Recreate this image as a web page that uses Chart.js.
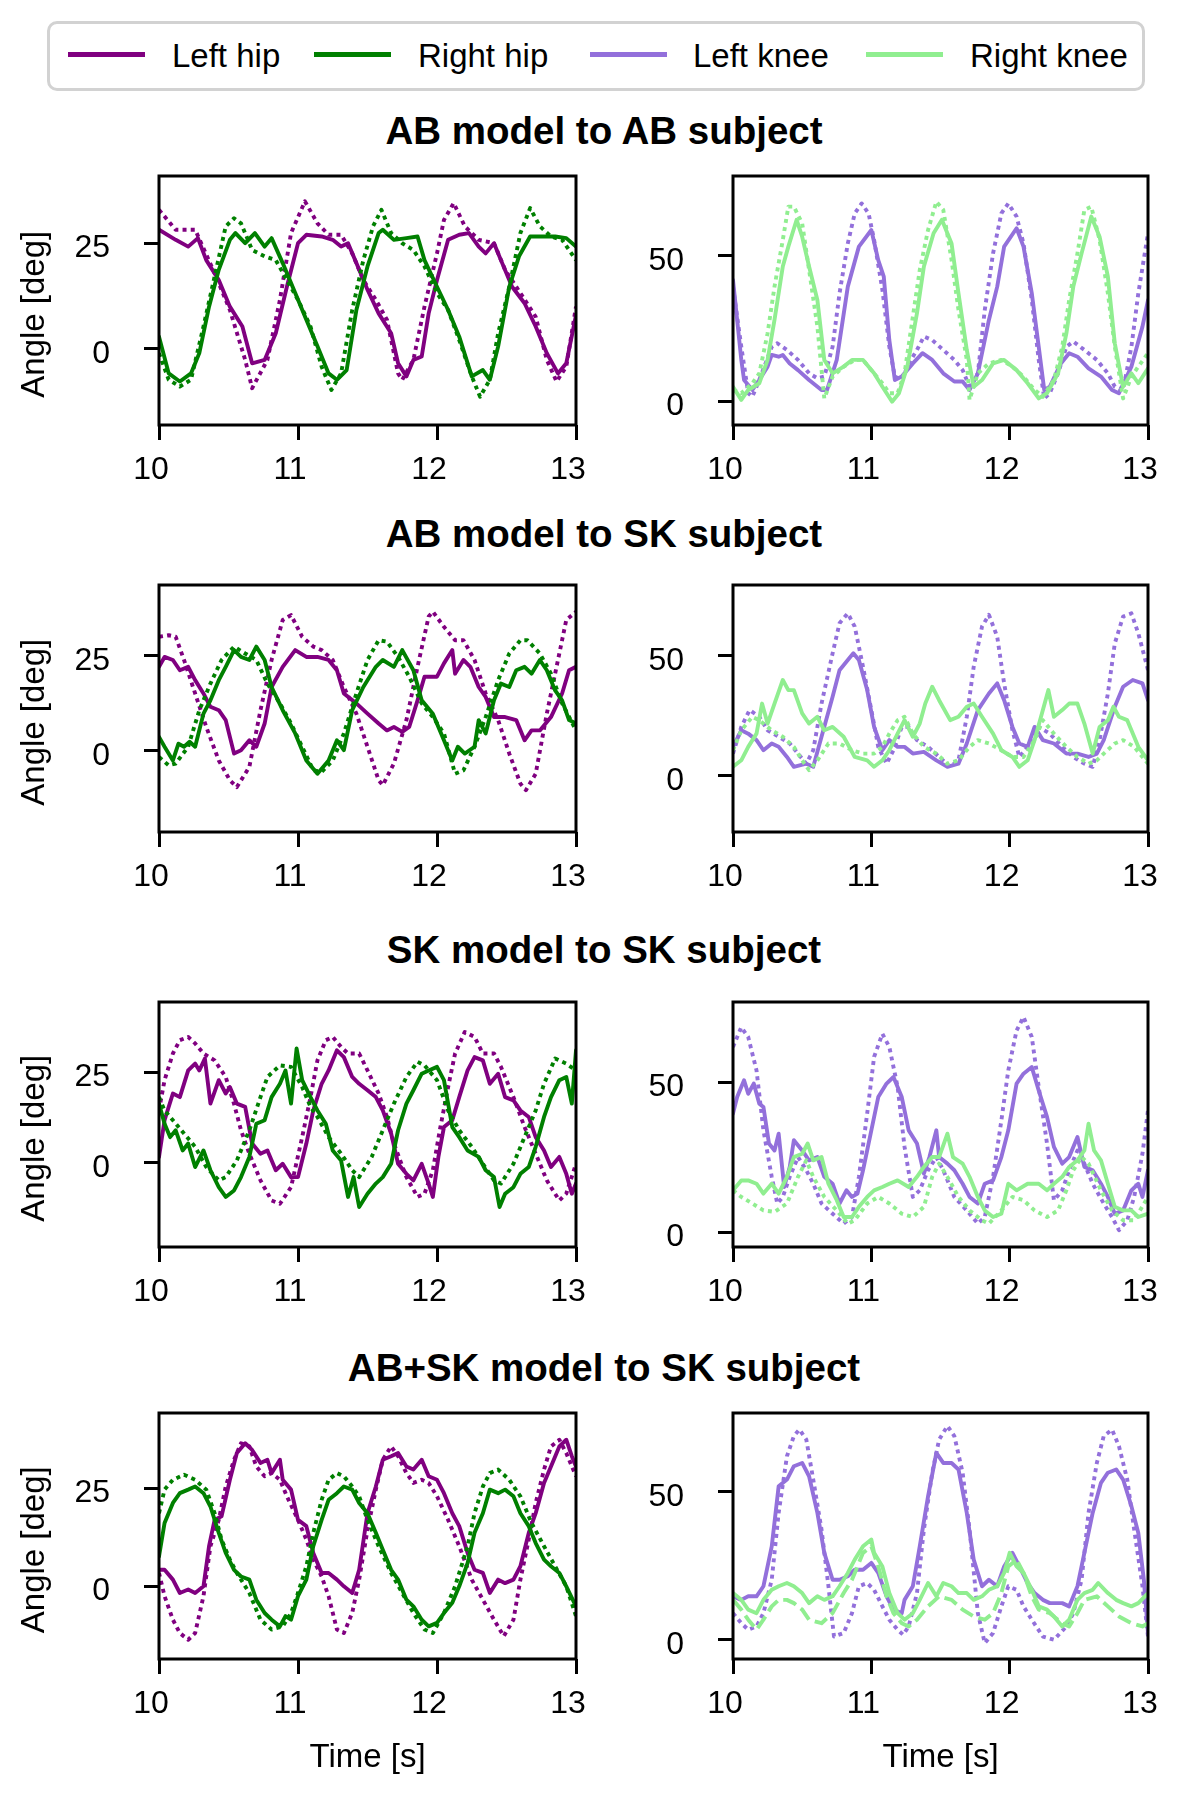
<!DOCTYPE html>
<html>
<head>
<meta charset="utf-8">
<script src="https://cdn.jsdelivr.net/npm/chart.js@4.4.1/dist/chart.umd.min.js"></script>
<style>
  html, body { margin: 0; padding: 0; background: #fff; }
  body { width: 1181px; height: 1817px; position: relative; overflow: hidden;
         font-family: "Liberation Sans", Arial, sans-serif; color: #000; }
  .legend { position: absolute; left: 47px; top: 21px; width: 1098px; height: 70px;
            box-sizing: border-box; border: 3px solid #d2d2d2; border-radius: 10px; background: #fff; }
  .sw { position: absolute; height: 5px; top: 52px; width: 77px; }
  .lt { position: absolute; font-size: 33px; line-height: 33px; top: 39px; white-space: nowrap; }
  .title { position: absolute; left: 0; width: 1208px; text-align: center; font-weight: bold;
           font-size: 38.5px; line-height: 38px; white-space: nowrap; }
  canvas { position: absolute; }
</style>
</head>
<body>
<div class="legend"></div>
<div class="sw" style="left:68px;background:#800080"></div>
<div class="lt" style="left:172px">Left hip</div>
<div class="sw" style="left:314px;background:#008000"></div>
<div class="lt" style="left:418px">Right hip</div>
<div class="sw" style="left:590px;background:#9370DB"></div>
<div class="lt" style="left:693px">Left knee</div>
<div class="sw" style="left:866px;background:#90EE90"></div>
<div class="lt" style="left:970px">Right knee</div>

<div class="title" style="top:112px">AB model to AB subject</div>
<div class="title" style="top:515px">AB model to SK subject</div>
<div class="title" style="top:931px">SK model to SK subject</div>
<div class="title" style="top:1349px">AB+SK model to SK subject</div>

<script>
// ---------------- DATA (time [s], angle [deg]) ----------------
// Row 1: AB model to AB subject
const r1_lhip = [[10,28.2],[10.12,25.8],[10.21,24.2],[10.28,26.2],[10.34,21],[10.43,16.3],[10.51,10],[10.6,5.3],[10.67,-3.4],[10.76,-2.6],[10.84,3.7],[10.92,14.7],[11,25],[11.06,27],[11.17,26.6],[11.25,25.8],[11.31,24.2],[11.36,25],[11.42,20.3],[11.5,14],[11.58,8.4],[11.67,3.7],[11.72,-3.4],[11.78,-6.5],[11.83,-2.6],[11.89,-1.8],[11.94,8.4],[12,16.3],[12.08,25.8],[12.16,27],[12.23,27.4],[12.3,24.2],[12.35,22.6],[12.41,25],[12.46,21],[12.54,14.7],[12.63,10.8],[12.71,5.3],[12.79,-1],[12.87,-5.8],[12.93,-3.4],[13,8]];
const r1_lhip_ref = [[10,32.9],[10.12,28.2],[10.26,28.2],[10.4,17.9],[10.51,9.2],[10.62,-2.6],[10.67,-9.3],[10.78,-2.6],[10.87,11.6],[10.95,27.4],[11.05,34.9],[11.14,29.7],[11.22,27],[11.31,27],[11.39,22.6],[11.47,16.3],[11.56,11.6],[11.64,6.9],[11.72,-5.8],[11.75,-7.3],[11.83,-2.6],[11.91,10],[12,22.6],[12.05,30.5],[12.12,34.5],[12.2,29],[12.3,25.8],[12.41,25],[12.49,18.7],[12.6,13.2],[12.71,7.6],[12.79,-2.6],[12.86,-7.7],[12.93,-4.2],[13,10]];
const r1_rhip = [[10,2.9],[10.07,-5.8],[10.15,-7.7],[10.23,-5.8],[10.29,-1],[10.36,10],[10.43,18.7],[10.51,25.8],[10.55,27.4],[10.62,25],[10.69,27.4],[10.76,24.2],[10.81,26.2],[10.89,20.3],[10.98,13.2],[11.06,6.9],[11.14,0.6],[11.22,-5.8],[11.28,-7.3],[11.35,-5],[11.42,9.2],[11.5,19.5],[11.58,27.4],[11.61,28.2],[11.69,25.8],[11.78,26.2],[11.86,26.6],[11.91,21],[12,14.7],[12.08,9.2],[12.16,2.9],[12.25,-6.5],[12.33,-5],[12.38,-7.3],[12.44,0.6],[12.52,14.7],[12.59,21.9],[12.67,26.6],[12.76,26.6],[12.85,26.6],[12.93,26.2],[13,24.2]];
const r1_rhip_ref = [[10,-1],[10.07,-7.3],[10.15,-8.9],[10.23,-7.3],[10.32,5.3],[10.4,17.1],[10.48,29],[10.54,30.9],[10.59,29.7],[10.67,23.4],[10.76,21.9],[10.84,21],[10.92,16.3],[11,11.6],[11.09,5.3],[11.17,-4.2],[11.24,-9.7],[11.31,-5.8],[11.39,9.2],[11.47,21],[11.54,29],[11.6,32.9],[11.67,27.4],[11.75,25],[11.83,23.4],[11.91,19.5],[12,13.2],[12.08,9.2],[12.16,2.1],[12.25,-6.5],[12.31,-11.3],[12.38,-7.3],[12.44,3.7],[12.52,14.7],[12.6,27.4],[12.67,33.3],[12.74,29],[12.82,26.6],[12.9,25.8],[13,21]];
const r1_lknee = [[10,41.7],[10.06,14.3],[10.08,7.4],[10.14,4],[10.19,7.4],[10.25,12],[10.28,16],[10.33,15.4],[10.36,16],[10.41,13.1],[10.47,10.8],[10.55,7.4],[10.64,4],[10.68,4],[10.75,14.3],[10.83,39.4],[10.91,53.1],[11,58.8],[11.05,48.5],[11.09,42.8],[11.13,21.1],[11.17,7.4],[11.22,8.6],[11.3,13.1],[11.37,16.6],[11.44,14.3],[11.52,9.7],[11.6,6.9],[11.66,6.9],[11.71,4],[11.77,9.7],[11.85,28],[11.91,39.4],[11.96,53.1],[12.05,59.4],[12.1,53.1],[12.16,37.1],[12.21,18.8],[12.25,4],[12.29,5.1],[12.37,13.1],[12.43,16.6],[12.49,15.4],[12.57,11.4],[12.66,8.6],[12.74,4],[12.79,2.9],[12.88,12],[12.96,25.7],[13,34.8]];
const r1_lknee_ref = [[10,39.4],[10.06,18.8],[10.11,2.9],[10.14,1.7],[10.19,7.4],[10.28,18.8],[10.32,20],[10.39,17.7],[10.47,14.3],[10.55,9.7],[10.61,8],[10.66,8.6],[10.72,18.8],[10.77,37.1],[10.83,54.2],[10.88,64.5],[10.93,67.9],[10.98,64.5],[11.02,55.4],[11.08,38.3],[11.13,18.8],[11.17,8.6],[11.22,7.4],[11.27,13.1],[11.33,17.7],[11.38,22.3],[11.44,21.1],[11.52,17.7],[11.6,14.3],[11.66,10.8],[11.71,5.1],[11.77,9.7],[11.82,31.4],[11.88,50.8],[11.94,64.5],[11.99,67.9],[12.05,63.4],[12.1,54.2],[12.16,34.8],[12.21,14.3],[12.25,1.1],[12.29,2.9],[12.35,9.7],[12.41,18.8],[12.46,20.6],[12.54,17.7],[12.63,14.3],[12.71,9.7],[12.76,5.1],[12.82,4],[12.88,18.8],[12.93,37.1],[13,57.7]];
const r1_rknee = [[10,5.1],[10.06,0.6],[10.11,4],[10.19,6.3],[10.25,14.3],[10.3,28],[10.36,46.3],[10.4,53.1],[10.46,62.3],[10.5,56.5],[10.55,46.3],[10.61,34.8],[10.66,14.3],[10.72,9.7],[10.8,12],[10.86,14.3],[10.94,14.3],[11.02,9.7],[11.08,5.1],[11.15,0],[11.2,2.9],[11.26,12],[11.33,30.3],[11.38,46.3],[11.45,57.7],[11.51,62.3],[11.58,54.2],[11.63,37.1],[11.69,17.7],[11.74,5.1],[11.8,7.4],[11.88,13.1],[11.96,14.3],[12.05,10.8],[12.13,6.3],[12.21,1.1],[12.27,2.9],[12.35,9.7],[12.41,23.4],[12.46,39.4],[12.52,50.8],[12.59,63.4],[12.65,56.5],[12.71,42.8],[12.76,20],[12.82,5.1],[12.88,9.7],[12.93,6.3],[13,11.4]];
const r1_rknee_ref = [[10,4],[10.06,2.9],[10.14,6.3],[10.19,9.7],[10.25,23.4],[10.3,39.4],[10.36,55.4],[10.4,66.8],[10.44,66.8],[10.5,61.1],[10.55,45.1],[10.61,25.7],[10.66,1.1],[10.72,8.6],[10.8,12],[10.88,14.3],[10.94,14.3],[11,10.8],[11.08,6.3],[11.13,2.9],[11.19,2.9],[11.24,9.7],[11.3,29.1],[11.35,45.1],[11.41,58.8],[11.47,68.5],[11.52,65.7],[11.58,48.5],[11.63,31.4],[11.69,14.3],[11.71,0.6],[11.77,9.7],[11.85,13.1],[11.94,14.3],[12.02,12],[12.1,8.6],[12.18,4],[12.24,1.7],[12.32,7.4],[12.38,18.8],[12.43,34.8],[12.49,50.8],[12.54,65.7],[12.59,66.8],[12.65,55.4],[12.71,37.1],[12.76,18.8],[12.82,1.1],[12.88,8.6],[12.93,12],[13,16.6]];

// Row 2: AB model to SK subject
const r2_lhip = [[10,22.1],[10.04,24.7],[10.1,23.9],[10.15,21.2],[10.21,22.1],[10.26,18.6],[10.32,15.1],[10.37,11.6],[10.43,10.7],[10.48,8.1],[10.54,-0.7],[10.59,0.2],[10.65,2.8],[10.7,1.1],[10.76,7.2],[10.81,16.8],[10.89,22.1],[10.98,26.5],[11.06,24.7],[11.14,24.7],[11.22,23.9],[11.28,21.2],[11.33,15.1],[11.42,12.5],[11.5,9.8],[11.58,7.2],[11.64,5.4],[11.69,6.3],[11.75,5],[11.8,6.3],[11.86,13.3],[11.91,19.5],[12,19.5],[12.05,23],[12.11,26.5],[12.13,20.3],[12.19,23.9],[12.24,22.1],[12.3,16.8],[12.35,14.2],[12.41,8.9],[12.49,8.9],[12.57,8.1],[12.63,2.8],[12.68,5.4],[12.74,5.4],[12.82,8.9],[12.9,15.1],[12.95,21.2],[13,22.1]];
const r2_lhip_ref = [[10,30],[10.07,30.4],[10.12,30],[10.18,23.9],[10.26,15.1],[10.34,6.3],[10.43,-2.5],[10.51,-7.7],[10.56,-9.5],[10.65,-4.2],[10.73,10.7],[10.81,23.9],[10.89,34.4],[10.95,35.7],[11.03,30],[11.11,27.4],[11.17,26.5],[11.25,23.9],[11.33,16.8],[11.42,9.8],[11.5,1.1],[11.58,-7.7],[11.61,-9],[11.69,-3.3],[11.78,8.1],[11.86,22.1],[11.94,35.3],[11.97,36.6],[12.05,32.6],[12.13,29.1],[12.19,29.1],[12.27,23.9],[12.35,15.1],[12.44,8.1],[12.52,-0.7],[12.6,-8.6],[12.64,-10.3],[12.71,-6],[12.79,9.8],[12.88,25.6],[12.93,34.4],[13,36.6]];
const r2_rhip = [[10,3.7],[10.04,1.1],[10.1,-2.5],[10.14,1.9],[10.18,1.1],[10.22,2.4],[10.26,1.1],[10.32,9.8],[10.37,13.3],[10.43,18.6],[10.48,22.1],[10.54,26.5],[10.59,24.7],[10.65,23.9],[10.7,27.4],[10.76,23.9],[10.81,16.8],[10.89,10.7],[10.98,4.6],[11.06,-2.5],[11.14,-6],[11.22,-2.5],[11.28,2.8],[11.33,0.2],[11.39,10.7],[11.47,16.8],[11.56,22.1],[11.61,23.9],[11.69,22.1],[11.75,26.5],[11.83,21.2],[11.89,13.3],[11.97,9.8],[12.05,2.8],[12.11,-2.5],[12.15,1.1],[12.2,-0.7],[12.27,1.1],[12.3,8.1],[12.35,4.6],[12.41,13.3],[12.46,17.7],[12.52,16.8],[12.57,21.2],[12.63,22.1],[12.68,20.3],[12.74,23.9],[12.79,21.2],[12.85,15.9],[12.9,13.3],[12.95,8.1],[13,7.2]];
const r2_rhip_ref = [[10,-1.6],[10.07,-3.8],[10.12,-3.3],[10.21,1.1],[10.29,10.7],[10.37,17.7],[10.45,23.9],[10.54,27.4],[10.62,25.6],[10.7,23.9],[10.78,17.7],[10.87,12.5],[10.95,7.2],[11.03,1.1],[11.11,-5.1],[11.17,-5.5],[11.25,-2.5],[11.33,4.6],[11.42,15.1],[11.5,23.9],[11.58,29.1],[11.64,28.7],[11.72,24.7],[11.8,19.5],[11.89,12.5],[11.97,8.9],[12.05,4.6],[12.13,-6],[12.19,-5.1],[12.27,1.1],[12.35,8.9],[12.44,18.6],[12.52,25.6],[12.6,29.1],[12.65,29.1],[12.74,25.6],[12.82,20.3],[12.9,12.5],[13,5.4]];
const r2_lknee = [[10,12.1],[10.06,19],[10.11,17.6],[10.17,14.9],[10.22,10.7],[10.28,13.5],[10.33,12.1],[10.39,7.9],[10.44,3.8],[10.53,5.1],[10.58,3.8],[10.64,16.3],[10.72,32.9],[10.77,44],[10.83,48.2],[10.87,51],[10.91,48.2],[10.97,35.7],[11.02,20.4],[11.08,10.7],[11.13,14.9],[11.19,12.1],[11.24,12.1],[11.3,9.3],[11.38,10],[11.47,6.5],[11.55,3.8],[11.63,5.1],[11.69,13.5],[11.77,27.4],[11.85,34.3],[11.91,38.5],[11.96,31.5],[12.02,20.4],[12.07,13.5],[12.13,12.1],[12.18,20.4],[12.24,14.9],[12.32,13.5],[12.41,9.3],[12.49,9.3],[12.57,7.9],[12.63,9.3],[12.68,14.9],[12.76,28.8],[12.82,37.1],[12.89,39.9],[12.96,38.5],[13,31.5]];
const r2_lknee_ref = [[10,9.3],[10.06,20.4],[10.12,27.4],[10.19,24.6],[10.25,19],[10.33,16.3],[10.41,13.5],[10.47,9.3],[10.53,5.1],[10.58,10.7],[10.64,30.1],[10.72,51],[10.77,63.5],[10.83,67.6],[10.88,62.1],[10.94,45.4],[11,27.4],[11.05,12.1],[11.11,5.1],[11.16,10.7],[11.22,20.4],[11.27,20.4],[11.33,14.9],[11.41,12.1],[11.49,7.9],[11.57,3.8],[11.63,6.5],[11.69,24.6],[11.74,45.4],[11.8,62.1],[11.85,67],[11.91,57.9],[11.96,38.5],[12.02,19],[12.07,7.9],[12.13,12.1],[12.21,20.4],[12.29,17.6],[12.38,12.1],[12.46,7.9],[12.54,5.1],[12.6,3.8],[12.65,14.9],[12.71,34.3],[12.76,55.1],[12.82,66.3],[12.88,67.6],[12.93,59.3],[13,44]];
const r2_rknee = [[10,3.8],[10.06,6.5],[10.11,12.1],[10.17,17.6],[10.21,30.1],[10.25,21.8],[10.3,30.1],[10.36,39.9],[10.4,35.7],[10.44,35.7],[10.5,26],[10.55,21.8],[10.61,24.6],[10.66,19],[10.72,20.4],[10.8,16.3],[10.88,7.9],[10.97,6.5],[11.02,3.8],[11.08,6.5],[11.13,10.7],[11.19,17.6],[11.24,23.2],[11.3,16.3],[11.35,21.8],[11.39,30.1],[11.44,37.1],[11.49,31.5],[11.57,23.2],[11.63,24.6],[11.69,28.8],[11.74,30.1],[11.8,24.6],[11.88,17.6],[11.94,10.7],[12.02,7.9],[12.07,3.8],[12.13,6.5],[12.18,14.9],[12.24,27.4],[12.28,35.7],[12.32,24.6],[12.38,27.4],[12.43,30.1],[12.49,30.1],[12.54,21.8],[12.6,9.3],[12.65,20.4],[12.71,23.2],[12.75,28.8],[12.79,24.6],[12.85,23.2],[12.93,12.1],[13,6.5]];
const r2_rknee_ref = [[10,10.7],[10.06,19],[10.14,24.6],[10.19,23.2],[10.28,19],[10.36,16.3],[10.44,12.1],[10.5,6.5],[10.55,2.4],[10.61,6.5],[10.69,13.5],[10.77,13.5],[10.86,10.7],[10.94,9.3],[11.02,9.3],[11.08,12.1],[11.13,17.6],[11.19,23.2],[11.24,24.6],[11.3,17.6],[11.38,12.1],[11.47,9.3],[11.55,5.1],[11.63,6.5],[11.71,12.1],[11.77,14.9],[11.85,13.5],[11.94,10.7],[12.02,7.9],[12.1,7.9],[12.18,14.9],[12.24,23.2],[12.32,17.6],[12.41,12.1],[12.49,7.9],[12.57,5.1],[12.63,6.5],[12.68,9.3],[12.76,13.5],[12.82,14.9],[12.9,12.1],[13,5.1]];

// Row 3: SK model to SK subject
const r3_lhip = [[10,1.6],[10.04,11.8],[10.1,19.2],[10.15,18.2],[10.21,25.6],[10.26,27.5],[10.29,25.6],[10.33,28.9],[10.37,16.4],[10.43,22.9],[10.48,19.2],[10.51,21],[10.56,16.4],[10.62,15.5],[10.67,5.3],[10.73,2.5],[10.78,3.4],[10.84,-2.1],[10.89,-0.3],[10.95,-4],[11,-4],[11.06,5.3],[11.11,14.5],[11.17,21.9],[11.22,25.6],[11.28,31.2],[11.33,29.3],[11.39,23.8],[11.44,21.9],[11.5,20.1],[11.56,18.2],[11.61,14.5],[11.67,8.1],[11.72,-0.3],[11.78,-3.1],[11.83,-4.9],[11.89,-0.3],[11.94,-5.8],[11.97,-9.5],[12.01,1.6],[12.05,9.9],[12.11,11.8],[12.16,18.2],[12.22,25.6],[12.27,29.3],[12.33,28.4],[12.38,21.9],[12.44,24.7],[12.49,18.2],[12.55,17.3],[12.6,14.5],[12.66,12.7],[12.71,7.1],[12.77,3.4],[12.82,-1.2],[12.88,1.6],[12.93,-3.1],[12.97,-8.6],[13,-5.8]];
const r3_lhip_ref = [[10,14.5],[10.04,22.9],[10.1,30.3],[10.15,34],[10.21,34.9],[10.26,33.1],[10.32,30.3],[10.4,28.4],[10.48,23.8],[10.54,16.3],[10.59,9],[10.65,2.5],[10.73,-4.9],[10.81,-10.5],[10.87,-11.4],[10.95,-6.8],[11.03,7.1],[11.09,18.2],[11.14,28.4],[11.2,34],[11.25,34.9],[11.31,32.1],[11.36,30.3],[11.44,30.3],[11.5,25.6],[11.58,19.2],[11.64,12.7],[11.69,5.3],[11.78,-4],[11.86,-9.5],[11.91,-8.6],[11.97,-2.1],[12.02,9],[12.08,21],[12.13,30.3],[12.2,36.3],[12.27,34.9],[12.33,30.3],[12.41,30.3],[12.46,26.6],[12.55,18.2],[12.63,9.9],[12.71,2.5],[12.79,-4.9],[12.88,-10.5],[12.93,-8.6],[13,-0.3]];
const r3_rhip = [[10,16.4],[10.04,10.8],[10.08,7.1],[10.12,9],[10.17,3.4],[10.21,5.3],[10.26,-1.2],[10.32,3.4],[10.37,-2.1],[10.43,-6.8],[10.48,-9.5],[10.54,-7.7],[10.59,-4],[10.65,1.6],[10.7,10.8],[10.76,11.8],[10.81,18.2],[10.87,21.9],[10.91,25.6],[10.95,16.4],[10.99,31.7],[11.03,22.9],[11.09,18.2],[11.14,14.5],[11.2,10.8],[11.25,3.4],[11.31,0.6],[11.36,-9.5],[11.4,-4],[11.44,-12.3],[11.5,-8.6],[11.56,-5.8],[11.61,-4],[11.67,-0.3],[11.72,9],[11.78,16.4],[11.83,20.1],[11.89,24.7],[11.94,25.6],[12,26.6],[12.05,22.9],[12.11,9.9],[12.16,7.1],[12.22,3.4],[12.3,1.6],[12.35,-2.1],[12.41,-4],[12.45,-12.3],[12.49,-8.6],[12.55,-6.8],[12.6,-3.1],[12.66,-1.2],[12.71,4.4],[12.77,12.7],[12.82,18.2],[12.88,22.9],[12.93,23.8],[12.97,16.4],[13,31.2]];
const r3_rhip_ref = [[10,18.2],[10.04,14.5],[10.1,11.8],[10.18,8.1],[10.26,4.4],[10.34,-1.2],[10.43,-4.9],[10.48,-4],[10.56,0.6],[10.65,9],[10.73,18.2],[10.78,23.8],[10.87,27],[10.95,26.6],[11.03,21],[11.09,15.5],[11.14,12.7],[11.22,7.1],[11.31,2.5],[11.39,-2.1],[11.44,-4],[11.53,1.6],[11.61,9],[11.69,16.4],[11.78,23.8],[11.86,28],[11.91,27],[12,22.9],[12.08,14.5],[12.16,9],[12.25,4.4],[12.33,-0.3],[12.41,-4.9],[12.46,-5.8],[12.55,-0.3],[12.63,7.1],[12.71,14.5],[12.77,21.9],[12.85,28.9],[12.93,27.5],[13,25.6]];
const r3_lknee = [[10,39.7],[10.03,45.2],[10.08,50.8],[10.11,46.3],[10.15,49.7],[10.19,43],[10.22,41.9],[10.26,29.7],[10.3,27.4],[10.33,33],[10.37,15.2],[10.41,21.9],[10.44,30.8],[10.5,27.4],[10.55,24.1],[10.61,25.2],[10.66,18.6],[10.72,16.3],[10.77,9.7],[10.82,14.1],[10.86,11.9],[10.9,13],[10.94,20.8],[11,34.1],[11.05,45.2],[11.11,49.7],[11.16,51.9],[11.22,45.2],[11.27,34.1],[11.33,29.7],[11.38,19.7],[11.42,25.2],[11.47,34.1],[11.49,25.2],[11.55,23],[11.6,20.8],[11.66,16.3],[11.71,11.9],[11.77,9.7],[11.82,16.3],[11.88,17.4],[11.94,25.2],[11.99,34.1],[12.05,49.7],[12.1,53],[12.16,55.2],[12.21,47.4],[12.27,38.6],[12.32,28.6],[12.38,23],[12.43,25.2],[12.49,31.9],[12.54,21.9],[12.6,20.8],[12.66,16.3],[12.71,11.9],[12.76,6.3],[12.82,7.4],[12.88,14.1],[12.93,16.3],[12.96,11.9],[13,20.8]];
const r3_lknee_ref = [[10,61.9],[10.06,68.5],[10.11,65.2],[10.17,54.1],[10.22,34.1],[10.28,18.6],[10.32,9.7],[10.36,11.9],[10.41,18.6],[10.47,25.2],[10.53,20.8],[10.58,16.3],[10.64,9.7],[10.72,6.3],[10.8,3],[10.86,5.2],[10.91,18.6],[10.97,39.7],[11.02,58.6],[11.08,66.3],[11.13,61.9],[11.19,48.6],[11.24,28.6],[11.3,11.9],[11.35,14.1],[11.41,20.8],[11.47,25.2],[11.52,20.8],[11.6,11.9],[11.69,7.4],[11.77,3],[11.82,5.2],[11.88,18.6],[11.94,37.4],[11.99,54.1],[12.05,67.4],[12.1,71.9],[12.16,65.2],[12.21,48.6],[12.27,29.7],[12.32,10.8],[12.38,14.1],[12.43,20.8],[12.49,27.4],[12.54,23],[12.6,16.3],[12.68,9.7],[12.74,5.2],[12.79,0.8],[12.85,4.1],[12.9,11.9],[12.96,26.3],[13,40.8]];
const r3_rknee = [[10,14.1],[10.06,17.4],[10.11,17.4],[10.17,16.3],[10.22,13],[10.28,16.3],[10.33,13],[10.39,18.6],[10.44,25.2],[10.5,26.3],[10.54,29.7],[10.58,24.1],[10.64,25.2],[10.69,16.3],[10.75,10.8],[10.8,5.2],[10.86,5.2],[10.91,8.6],[10.97,11.9],[11.02,14.1],[11.08,15.2],[11.13,16.3],[11.19,17.4],[11.27,15.2],[11.33,18.6],[11.38,21.9],[11.44,25.2],[11.49,25.2],[11.55,33],[11.59,25.2],[11.66,23],[11.71,18.6],[11.77,11.9],[11.82,7.4],[11.88,5.2],[11.94,6.3],[11.99,16.3],[12.05,14.1],[12.13,16.3],[12.21,16.3],[12.27,14.1],[12.32,16.3],[12.38,18.6],[12.43,21.9],[12.49,24.1],[12.54,27.4],[12.57,36.3],[12.61,27.4],[12.66,24.1],[12.71,16.3],[12.76,8.6],[12.82,7.4],[12.88,7.4],[12.93,5.2],[13,6.3]];
const r3_rknee_ref = [[10,14.1],[10.06,11.9],[10.14,9.7],[10.22,7.4],[10.3,6.9],[10.39,9.7],[10.47,18.6],[10.53,24.1],[10.58,18.6],[10.66,11.9],[10.75,7.4],[10.83,3],[10.88,4.1],[10.97,9.7],[11.05,11.9],[11.13,9.7],[11.22,6.3],[11.3,5.2],[11.38,8.6],[11.44,18.6],[11.49,23],[11.55,18.6],[11.63,11.9],[11.71,7.4],[11.8,4.1],[11.85,3],[11.94,7.4],[12.02,11.9],[12.1,10.8],[12.18,7.4],[12.27,5.2],[12.35,7.4],[12.41,14.1],[12.46,20.8],[12.52,25.2],[12.57,23],[12.66,14.1],[12.74,7.4],[12.82,4.1],[12.9,4.1],[13,11.9]];

// Row 4: AB+SK model to SK subject
const r4_lhip = [[10,4.2],[10.04,4.2],[10.1,1.7],[10.15,-1.7],[10.21,-0.8],[10.26,-1.7],[10.32,0],[10.36,10.2],[10.4,16.9],[10.45,17.8],[10.51,27.1],[10.56,33.9],[10.62,36.4],[10.67,34.7],[10.73,31.4],[10.78,32.2],[10.81,28.8],[10.87,32.2],[10.89,27.1],[10.95,24.6],[11,16.9],[11.06,15.3],[11.11,8.5],[11.17,3.4],[11.22,3.4],[11.28,1.7],[11.33,0],[11.39,-1.7],[11.44,4.2],[11.5,18.6],[11.56,25.4],[11.61,32.2],[11.67,33.1],[11.72,33.9],[11.78,30.5],[11.83,29.7],[11.89,32.2],[11.94,28],[12,27.1],[12.05,23.7],[12.11,18.6],[12.16,15.3],[12.22,8.5],[12.27,4.2],[12.33,3.4],[12.38,-1.7],[12.44,1.7],[12.49,0.8],[12.55,1.7],[12.6,5.1],[12.66,13.6],[12.71,18.6],[12.77,26.3],[12.82,30.5],[12.88,35.6],[12.93,37.3],[12.97,33.1],[13,30.5]];
const r4_lhip_ref = [[10,3.4],[10.04,-2.5],[10.1,-8.5],[10.15,-11.9],[10.21,-13.6],[10.26,-11.9],[10.32,-2.5],[10.37,10.2],[10.43,16.9],[10.48,25.4],[10.54,32.2],[10.59,36.4],[10.65,35.6],[10.7,30.5],[10.76,28],[10.81,28.8],[10.87,27.1],[10.92,22.9],[11,16.9],[11.06,11.9],[11.11,6.8],[11.17,2.5],[11.22,-2.5],[11.28,-11],[11.33,-11.9],[11.39,-6.8],[11.44,1.7],[11.5,14.4],[11.56,24.6],[11.61,32.2],[11.67,35.6],[11.72,33.1],[11.78,28.8],[11.83,26.3],[11.89,27.1],[11.94,26.3],[12,22.9],[12.08,16.9],[12.16,10.2],[12.25,1.7],[12.33,-3.4],[12.41,-8.5],[12.48,-12.7],[12.55,-8.5],[12.6,1.7],[12.66,11.9],[12.71,21.2],[12.77,29.7],[12.82,35.6],[12.88,37.3],[12.93,33.9],[13,28]];
const r4_rhip = [[10,7.6],[10.04,16.1],[10.1,21.2],[10.15,23.7],[10.21,24.6],[10.26,25.4],[10.32,23.7],[10.37,20.3],[10.43,13.6],[10.48,8.5],[10.54,4.2],[10.59,2.5],[10.65,1.7],[10.7,-3.4],[10.76,-6.8],[10.81,-8.5],[10.87,-10.2],[10.91,-7.6],[10.95,-8.5],[11,-2.5],[11.06,1.7],[11.11,10.2],[11.17,16.9],[11.22,22],[11.28,23.7],[11.33,25.4],[11.39,24.6],[11.44,21.2],[11.5,18.6],[11.56,13.6],[11.61,9.3],[11.67,4.2],[11.72,1.7],[11.78,-3.4],[11.83,-5.1],[11.89,-8.5],[11.94,-10.2],[12,-9.3],[12.05,-6.8],[12.11,-4.2],[12.16,0],[12.22,5.9],[12.27,13.6],[12.33,18.6],[12.38,24.6],[12.44,23.7],[12.49,24.6],[12.55,22.9],[12.6,18.6],[12.66,15.3],[12.71,11],[12.77,6.8],[12.82,5.1],[12.88,3.4],[12.93,0],[13,-5.1]];
const r4_rhip_ref = [[10,18.6],[10.04,24.6],[10.1,27.1],[10.18,28.4],[10.26,27.1],[10.34,24.6],[10.4,18.6],[10.45,11.9],[10.51,6.8],[10.56,3.4],[10.65,-1.7],[10.73,-8.5],[10.81,-11],[10.89,-10.2],[10.95,-6.8],[11,-1.7],[11.06,5.1],[11.11,13.6],[11.17,22],[11.22,27.1],[11.28,28.8],[11.33,28],[11.39,25.4],[11.44,22.9],[11.5,16.9],[11.58,10.2],[11.67,3.4],[11.75,-1.7],[11.83,-6.8],[11.91,-11],[11.97,-11.9],[12.05,-6.8],[12.13,0],[12.22,10.2],[12.27,18.6],[12.33,25.4],[12.38,28.8],[12.44,29.7],[12.52,27.1],[12.6,22.9],[12.68,16.1],[12.77,10.2],[12.85,5.1],[12.93,0],[13,-7.6]];
const r4_lknee = [[10,14.7],[10.06,13.5],[10.11,14.7],[10.17,14.7],[10.22,18.1],[10.28,31.6],[10.33,51.9],[10.39,54.2],[10.44,58.7],[10.5,59.8],[10.55,55.3],[10.61,42.9],[10.66,29.4],[10.72,20.3],[10.77,20.3],[10.83,21.5],[10.88,23.7],[10.94,23.7],[11,26],[11.05,22.6],[11.11,14.7],[11.16,10.2],[11.22,9],[11.24,13.5],[11.3,18.1],[11.35,31.6],[11.41,48.5],[11.47,63.2],[11.52,59.8],[11.58,59.8],[11.63,57.6],[11.69,42.9],[11.74,27.1],[11.8,18.1],[11.85,20.3],[11.91,18.1],[11.96,24.8],[12.02,29.4],[12.07,24.8],[12.13,19.2],[12.18,15.8],[12.24,13.5],[12.29,12.4],[12.38,12.4],[12.43,11.3],[12.49,18.1],[12.54,29.4],[12.6,42.9],[12.66,53.1],[12.71,56.5],[12.77,57.6],[12.82,54.2],[12.88,45.2],[12.93,36.1],[12.97,20.3],[13,2.3]];
const r4_lknee_ref = [[10,9],[10.06,5.6],[10.11,3.4],[10.17,4.5],[10.22,9],[10.28,20.3],[10.33,42.9],[10.39,62.1],[10.44,68.9],[10.48,71.1],[10.53,67.7],[10.58,54.2],[10.64,37.3],[10.69,18.1],[10.73,1.1],[10.8,2.3],[10.86,9],[10.91,18.1],[10.97,19.2],[11.02,16.9],[11.08,11.3],[11.13,6.8],[11.19,3.4],[11.23,1.7],[11.27,4.5],[11.33,15.8],[11.38,37.3],[11.44,56.5],[11.49,67.7],[11.55,72.3],[11.6,68.9],[11.66,56.5],[11.71,37.3],[11.77,9],[11.82,-1.1],[11.88,2.3],[11.94,11.3],[11.99,18.1],[12.05,16.9],[12.1,11.3],[12.16,6.8],[12.24,1.1],[12.32,0],[12.41,4.5],[12.46,9],[12.52,20.3],[12.57,42.9],[12.63,59.8],[12.68,68.9],[12.74,71.1],[12.79,65.5],[12.85,54.2],[12.9,37.3],[12.96,18.1],[13,1.1]];
const r4_rknee = [[10,15.8],[10.06,13.5],[10.11,10.2],[10.17,9],[10.22,13.5],[10.28,16.9],[10.33,18.1],[10.39,19.2],[10.44,18.1],[10.5,15.8],[10.55,12.4],[10.61,14.7],[10.66,13.5],[10.72,14.7],[10.77,18.1],[10.83,22.6],[10.88,27.1],[10.94,31.6],[11,33.9],[11.02,29.4],[11.08,24.8],[11.13,15.8],[11.19,9],[11.24,6.8],[11.3,9],[11.35,13.5],[11.41,19.2],[11.47,14.7],[11.52,19.2],[11.58,18.1],[11.63,15.8],[11.69,15.8],[11.74,13.5],[11.8,14.7],[11.85,16.9],[11.91,18.1],[11.96,22.6],[12,29.4],[12.05,24.8],[12.1,22.6],[12.16,16.9],[12.21,11.3],[12.27,10.2],[12.32,7.9],[12.38,4.5],[12.43,6.8],[12.49,13.5],[12.54,15.8],[12.6,16.9],[12.64,19.2],[12.71,15.8],[12.77,13.5],[12.82,12.4],[12.88,11.3],[12.93,12.4],[13,15.8]];
const r4_rknee_ref = [[10,13.5],[10.06,10.2],[10.11,6.8],[10.17,3.4],[10.22,6.8],[10.28,11.3],[10.33,13.5],[10.39,13.5],[10.44,12.4],[10.5,10.2],[10.55,6.8],[10.64,5.6],[10.72,9],[10.8,15.8],[10.86,20.3],[10.94,29.4],[11,31.6],[11.05,24.8],[11.11,14.7],[11.16,9],[11.22,5.6],[11.27,4.5],[11.33,6.8],[11.41,11.3],[11.49,14.7],[11.58,13.5],[11.66,10.2],[11.74,7.9],[11.82,6.8],[11.88,9],[11.94,15.8],[11.99,24.8],[12.05,27.1],[12.1,22.6],[12.16,14.7],[12.21,10.2],[12.29,9],[12.38,5.6],[12.43,4.5],[12.49,9],[12.54,13.5],[12.63,14.7],[12.71,11.3],[12.79,7.9],[12.88,5.6],[12.96,4.5],[13,5.6]];

// Tick values
const xTicks = [10, 11, 12, 13];
const hipTicks = [0, 25];
const kneeTicks = [0, 50];

// ---------------- LAYOUT / STYLE ----------------
const FONT = "'Liberation Sans', Arial, sans-serif";
const COL = { lhip: '#800080', rhip: '#008000', lknee: '#9370DB', rknee: '#90EE90' };
const DOT = [4, 4.2];
const DASH = [14, 6];
const LW = 3.9;

const ROWS = [
  { top: 176,  bottom: 425,  hipRange: [-18.0, 40.9], kneeRange: [-8.0, 77.3],
    hip: [r1_rhip, r1_rhip_ref, r1_lhip, r1_lhip_ref], knee: [r1_rknee, r1_rknee_ref, r1_lknee, r1_lknee_ref] },
  { top: 585,  bottom: 832,  hipRange: [-21.3, 43.6], kneeRange: [-23.3, 79.4],
    hip: [r2_rhip, r2_rhip_ref, r2_lhip, r2_lhip_ref], knee: [r2_rknee, r2_rknee_ref, r2_lknee, r2_lknee_ref] },
  { top: 1002, bottom: 1247, hipRange: [-23.4, 44.6], kneeRange: [-4.8, 76.9],
    hip: [r3_rhip, r3_rhip_ref, r3_lhip, r3_lhip_ref], knee: [r3_rknee, r3_rknee_ref, r3_lknee, r3_lknee_ref] },
  { top: 1413, bottom: 1659, hipRange: [-18.5, 44.1], kneeRange: [-6.5, 76.7],
    hip: [r4_rhip, r4_rhip_ref, r4_lhip, r4_lhip_ref], knee: [r4_rknee, r4_rknee_ref, r4_lknee, r4_lknee_ref] },
];

const frame = {
  id: 'frame',
  afterDraw(chart) {
    const { ctx, chartArea: a } = chart;
    ctx.save();
    ctx.strokeStyle = '#000';
    ctx.lineWidth = 3;
    ctx.strokeRect(a.left, a.top, a.right - a.left, a.bottom - a.top);
    ctx.restore();
  }
};

function ds(pairs, color, dash) {
  return {
    data: pairs.map(([x, y]) => ({ x, y })),
    borderColor: color,
    backgroundColor: color,
    borderWidth: LW,
    borderDash: dash || [],
    borderCapStyle: dash ? 'butt' : 'round',
    borderJoinStyle: 'round',
    pointRadius: 0,
    tension: 0,
    fill: false
  };
}

function makePanel(opts) {
  const PT = 20, PR = 20;
  const cv = document.createElement('canvas');
  const w = opts.axRight - opts.canvasLeft + PR;
  const h = PT + (opts.axBottom - opts.axTop) + opts.xh;
  cv.width = w; cv.height = h;
  cv.style.left = opts.canvasLeft + 'px';
  cv.style.top = (opts.axTop - PT) + 'px';
  cv.style.width = w + 'px'; cv.style.height = h + 'px';
  document.body.appendChild(cv);
  const yw = opts.axLeft - opts.canvasLeft;
  const tickFont = { family: FONT, size: 32 };
  const titleFont = { family: FONT, size: 33 };
  const gridOpt = { display: true, drawOnChartArea: false, drawTicks: true, tickLength: 15,
                    tickWidth: 3, lineWidth: 3, color: '#000', tickColor: '#000' };
  new Chart(cv, {
    type: 'line',
    data: { datasets: opts.datasets },
    options: {
      responsive: false, animation: false, events: [], devicePixelRatio: 1,
      layout: { padding: { left: 0, right: PR, top: PT, bottom: 0 } },
      plugins: { legend: { display: false }, tooltip: { enabled: false } },
      scales: {
        x: {
          type: 'linear', min: 10, max: 13,
          afterBuildTicks(s) { s.ticks = xTicks.map(v => ({ value: v })); },
          ticks: { font: tickFont, color: '#000', padding: 11, labelOffset: -8,
                   maxRotation: 0, autoSkip: false, callback: v => String(v) },
          grid: gridOpt, border: { display: false },
          title: { display: opts.xTitle, text: 'Time [s]', font: titleFont, color: '#000',
                   padding: { top: 0, bottom: 11 } },
          afterFit(s) { s.height = opts.xh; s.paddingLeft = 0; s.paddingRight = 0; }
        },
        y: {
          type: 'linear', min: opts.range[0], max: opts.range[1],
          afterBuildTicks(s) { s.ticks = opts.yTicks.map(v => ({ value: v })); },
          ticks: { font: tickFont, color: '#000', padding: 34, labelOffset: 5,
                   autoSkip: false, callback: v => String(v) },
          grid: gridOpt, border: { display: false },
          title: { display: opts.yTitle, text: 'Angle [deg]\u00a0\u00a0\u00a0', font: titleFont, color: '#000',
                   padding: { top: 15, bottom: 0 } },
          afterFit(s) { s.width = yw; s.paddingTop = 0; s.paddingBottom = 0; }
        }
      }
    },
    plugins: [frame]
  });
}

ROWS.forEach((r, i) => {
  const last = i === ROWS.length - 1;
  const xh = last ? 130 : 70;
  // hip panel (left)
  makePanel({
    canvasLeft: 0, axLeft: 159, axRight: 576, axTop: r.top, axBottom: r.bottom, xh,
    range: r.hipRange, yTicks: hipTicks, yTitle: true, xTitle: last,
    datasets: [
      ds(r.hip[0], COL.rhip), ds(r.hip[1], COL.rhip, DOT),
      ds(r.hip[2], COL.lhip), ds(r.hip[3], COL.lhip, DOT)
    ]
  });
  // knee panel (right)
  makePanel({
    canvasLeft: 600, axLeft: 733, axRight: 1148, axTop: r.top, axBottom: r.bottom, xh,
    range: r.kneeRange, yTicks: kneeTicks, yTitle: false, xTitle: last,
    datasets: [
      ds(r.knee[0], COL.rknee), ds(r.knee[1], COL.rknee, last ? DASH : DOT),
      ds(r.knee[2], COL.lknee), ds(r.knee[3], COL.lknee, DOT)
    ]
  });
});
</script>
</body>
</html>
